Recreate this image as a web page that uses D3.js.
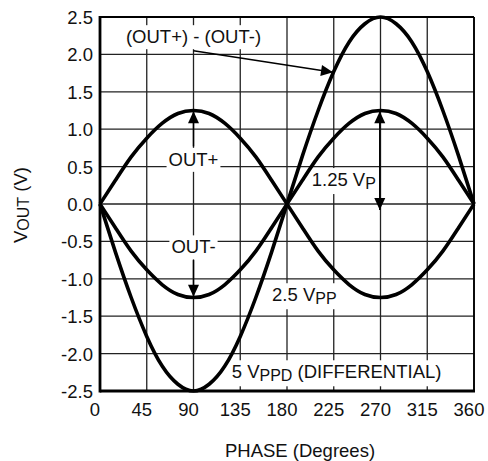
<!DOCTYPE html>
<html>
<head>
<meta charset="utf-8">
<script src="https://cdn.jsdelivr.net/npm/d3@7"></script>
<style>
  body { margin: 0; background: #fff; }
  text { font-family: "Liberation Sans", Arial, sans-serif; fill: #111; }
</style>
</head>
<body>
<svg id="chart" width="488" height="461"></svg>
<script>
// Values, every 15 degrees
var phase = [0, 15, 30, 45, 60, 75, 90, 105, 120, 135, 150, 165, 180,
             195, 210, 225, 240, 255, 270, 285, 300, 315, 330, 345, 360];
var outPlus = [0, 0.32, 0.63, 0.88, 1.08, 1.21, 1.25, 1.21, 1.08, 0.88, 0.63, 0.32, 0,
               -0.32, -0.63, -0.88, -1.08, -1.21, -1.25, -1.21, -1.08, -0.88, -0.63, -0.32, 0];
var outMinus = [0, -0.32, -0.63, -0.88, -1.08, -1.21, -1.25, -1.21, -1.08, -0.88, -0.63, -0.32, 0,
                0.32, 0.63, 0.88, 1.08, 1.21, 1.25, 1.21, 1.08, 0.88, 0.63, 0.32, 0];
var outDiff = [0, -0.65, -1.25, -1.77, -2.17, -2.41, -2.5, -2.41, -2.17, -1.77, -1.25, -0.65, 0,
               0.65, 1.25, 1.77, 2.17, 2.41, 2.5, 2.41, 2.17, 1.77, 1.25, 0.65, 0];

var xTicks = [0, 45, 90, 135, 180, 225, 270, 315, 360];
var yTicks = [-2.5, -2.0, -1.5, -1.0, -0.5, 0.0, 0.5, 1.0, 1.5, 2.0, 2.5];

var FONT = 18.5;
var SUB = 16;

var svg = d3.select("#chart");

var xScale = d3.scaleLinear().domain([0, 360]).range([100, 474]);
var yScale = d3.scaleLinear().domain([-2.5, 2.5]).range([391, 17]);

var fmt = function (d) { return d3.format(".1f")(d).replace("\u2212", "-"); };

// ##### grid #####
var grid = svg.append("g");
grid.selectAll(".vg").data(xTicks).enter().append("line")
  .attr("x1", function (d) { return xScale(d); })
  .attr("x2", function (d) { return xScale(d); })
  .attr("y1", yScale(2.5)).attr("y2", yScale(-2.5))
  .style("stroke", "#222").style("stroke-width", 1.3);
grid.selectAll(".hg").data(yTicks).enter().append("line")
  .attr("y1", function (d) { return yScale(d); })
  .attr("y2", function (d) { return yScale(d); })
  .attr("x1", xScale(0)).attr("x2", xScale(360))
  .style("stroke", "#222").style("stroke-width", 1.3);

// ##### tick labels #####
svg.append("g").selectAll("text").data(yTicks).enter().append("text")
  .attr("x", 93)
  .attr("y", function (d) { return yScale(d) + 7; })
  .attr("text-anchor", "end")
  .style("font-size", FONT + "px")
  .text(fmt);

svg.append("g").selectAll("text").data(xTicks).enter().append("text")
  .attr("x", function (d) { return xScale(d) - 5; })
  .attr("y", 416)
  .attr("text-anchor", "middle")
  .style("font-size", FONT + "px")
  .text(function (d) { return d; });

// ##### annotations (text with white boxes) #####
var labels = [
  {parts: [["(OUT+) - (OUT-)", 0]], x: 90, y: 2.15, anchor: "middle"},
  {parts: [["OUT+", 0]], x: 90, y: 0.51, anchor: "middle"},
  {parts: [["OUT-", 0]], x: 90, y: -0.66, anchor: "middle"},
  {parts: [["1.25 V", 0], ["P", 1]], x: 203.8, y: 0.24, anchor: "start"},
  {parts: [["2.5 V", 0], ["PP", 1]], x: 165.6, y: -1.30, anchor: "start"},
  {parts: [["5 V", 0], ["PPD", 1], [" (DIFFERENTIAL)", 2]], x: 126.8, y: -2.33, anchor: "start"}
];

var bgLayer = svg.append("g");
var curveLayer = svg.append("g");
var textLayer = svg.append("g");

labels.forEach(function (lab) {
  var t = textLayer.append("text")
    .attr("x", xScale(lab.x))
    .attr("y", yScale(lab.y))
    .attr("text-anchor", lab.anchor)
    .style("font-size", FONT + "px");
  lab.parts.forEach(function (p) {
    var ts = t.append("tspan").text(p[0]);
    if (p[1] == 1) ts.attr("dy", 3).style("font-size", SUB + "px");
    if (p[1] == 2) ts.attr("dy", -3);
  });
  var bb = t.node().getBBox();
  bgLayer.append("rect")
    .attr("x", bb.x - 2).attr("y", bb.y - 1)
    .attr("width", bb.width + 4).attr("height", bb.height + 3)
    .style("fill", "#fff");
});

// ##### curves #####
var line = d3.line()
  .x(function (d) { return xScale(d[0]); })
  .y(function (d) { return yScale(d[1]); })
  .curve(d3.curveNatural);

[outPlus, outMinus, outDiff].forEach(function (series) {
  curveLayer.append("path")
    .datum(d3.zip(phase, series))
    .attr("d", line)
    .style("fill", "none")
    .style("stroke", "#000")
    .style("stroke-width", 3.6);
});

// ##### arrows #####
var arrowLayer = svg.append("g");

function arrowHead(tipX, tipY, fromX, fromY) {
  var ang = Math.atan2(tipY - fromY, tipX - fromX);
  var len = 12, half = 5.5;
  var bx = tipX - len * Math.cos(ang), by = tipY - len * Math.sin(ang);
  var px = -Math.sin(ang) * half, py = Math.cos(ang) * half;
  arrowLayer.append("path")
    .attr("d", "M" + tipX + "," + tipY + "L" + (bx + px) + "," + (by + py) +
               "L" + (bx - px) + "," + (by - py) + "Z")
    .style("fill", "#000");
}

function arrow(x1, y1, x2, y2, both) {
  var ax = xScale(x1), ay = yScale(y1), bx = xScale(x2), by = yScale(y2);
  arrowLayer.append("line")
    .attr("x1", ax).attr("y1", ay).attr("x2", bx).attr("y2", by)
    .style("stroke", "#000").style("stroke-width", 1.5);
  arrowHead(bx, by, ax, ay);
  if (both) arrowHead(ax, ay, bx, by);
}

arrow(90, 2.05, 224.3, 1.76, false);
arrow(90, 0.77, 90, 1.24, false);
arrow(90, -0.75, 90, -1.24, false);
arrow(269.3, 1.24, 269.3, -0.08, true);

// ##### frame #####
var frame = svg.append("g").style("stroke", "#000");
frame.append("line").attr("x1", xScale(0)).attr("x2", xScale(360))
  .attr("y1", yScale(2.5)).attr("y2", yScale(2.5)).style("stroke-width", 1.8);
frame.append("line").attr("x1", xScale(360)).attr("x2", xScale(360))
  .attr("y1", yScale(2.5)).attr("y2", yScale(-2.5)).style("stroke-width", 1.8);
frame.append("line").attr("x1", xScale(0)).attr("x2", xScale(0))
  .attr("y1", yScale(2.5) - 1).attr("y2", yScale(-2.5) + 1.4).style("stroke-width", 2.8);
frame.append("line").attr("x1", xScale(0)).attr("x2", xScale(360) + 1)
  .attr("y1", yScale(-2.5)).attr("y2", yScale(-2.5)).style("stroke-width", 2.8);

// ##### axis titles #####
var yt = svg.append("text")
  .attr("transform", "translate(27, 205) rotate(-90)")
  .attr("text-anchor", "middle")
  .style("font-size", FONT + "px");
yt.append("tspan").text("V");
yt.append("tspan").attr("dy", 2).style("font-size", SUB + "px").text("OUT");
yt.append("tspan").attr("dy", -2).text(" (V)");

svg.append("text")
  .attr("x", 300).attr("y", 457)
  .attr("text-anchor", "middle")
  .style("font-size", FONT + "px")
  .text("PHASE (Degrees)");
</script>
</body>
</html>
